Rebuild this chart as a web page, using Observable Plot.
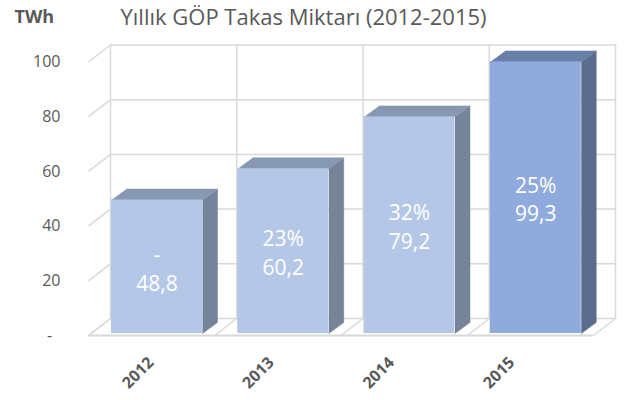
<!DOCTYPE html>
<html><head><meta charset="utf-8">
<script src="https://cdn.jsdelivr.net/npm/d3@7"></script>
<script src="https://cdn.jsdelivr.net/npm/@observablehq/plot@0.6"></script>
<style>body{margin:0;background:#fff;font-family:"Open Sans",sans-serif;}</style>
</head><body><div id="chart"></div>
<script>
// ---- data ----
const years = ["2012", "2013", "2014", "2015"];
const volumes = [48.8, 60.2, 79.2, 99.3];          // TWh
const growth = ["-", "23%", "32%", "25%"];          // yearly change
const yTicks = [0, 20, 40, 60, 80, 100];
const titleText = "Yıllık GÖP Takas Miktarı (2012-2015)";
const unitText = "TWh";

// ---- layout / style ----
const W = 627, H = 400, mL = 88, mR = 34, mT = 61.5, mB = 65;
const pxX = (W - mL - mR) / years.length;
const pxY = (H - mT - mB) / 100;
const wallDX = 22, wallDY = 17;    // depth of the chart box (px)
const barDX = 15, barDY = 11;      // depth of bars (px)
const barLift = 2;
const barStart = 0.182, barEnd = 0.903;
const labelStep = 0.953;           // perspective of category labels
const wdx = wallDX / pxX, wdy = wallDY / pxY, bdx = barDX / pxX, bdy = barDY / pxY;
const grid = "#d9d9d9", textCol = "#595959";
const colFront = [ "#b4c7e7", "#8faadc" ];
const colSide = [ "#768499", "#5b6d8e" ];
const colTop = [ "#8698b2", "#6a7fa8" ];

const fmt = v => v.toFixed(1).replace(".", ",");
const bars = years.map((year, i) => ({
  year, i, v: volumes[i], g: growth[i],
  x1: i + barStart, x2: i + barEnd, k: i === years.length - 1 ? 1 : 0
}));
const sides = bars.flatMap(b => [
  {year: b.year, k: b.k, x: b.x2, y: 0},
  {year: b.year, k: b.k, x: b.x2 + bdx, y: bdy},
  {year: b.year, k: b.k, x: b.x2 + bdx, y: b.v + bdy},
  {year: b.year, k: b.k, x: b.x2, y: b.v}
]);
const tops = bars.flatMap(b => [
  {year: b.year, k: b.k, x: b.x1, y: b.v},
  {year: b.year, k: b.k, x: b.x2, y: b.v},
  {year: b.year, k: b.k, x: b.x2 + bdx, y: b.v + bdy},
  {year: b.year, k: b.k, x: b.x1 + bdx, y: b.v + bdy}
]);
const bounds = d3.range(years.length + 1);

const chart = Plot.plot({
  width: W, height: H,
  marginLeft: mL, marginRight: mR, marginTop: mT, marginBottom: mB,
  style: {fontFamily: "'Open Sans', sans-serif", fontSize: "16px", color: textCol, background: "#fff"},
  x: {type: "linear", domain: [0, years.length], axis: null},
  y: {domain: [0, 100]},
  marks: [
    // back wall
    Plot.ruleY(yTicks, {x1: 0, x2: years.length, dx: wallDX, dy: -wallDY, stroke: grid, strokeWidth: 1.5}),
    Plot.ruleX(bounds, {y1: 0, y2: 100, dx: wallDX, dy: -wallDY, stroke: grid, strokeWidth: 1.5}),
    // left slanted gridlines
    Plot.link(yTicks, {x1: 0, y1: d => d, x2: wdx, y2: d => d + wdy, stroke: grid, strokeWidth: 1.5}),
    // floor
    Plot.link(bounds, {x1: d => d, y1: 0, x2: d => d + wdx, y2: wdy, stroke: grid, strokeWidth: 1.5}),
    Plot.ruleY([0], {x1: 0, x2: years.length, stroke: grid, strokeWidth: 2}),
    // axis
    Plot.axisY({ticks: yTicks, tickSize: 0, tickPadding: 28, tickFormat: d => d === 0 ? "-\u00a0\u00a0" : d}),
    // bars
    Plot.line(sides, {x: "x", y: "y", z: "year", fill: d => colSide[d.k], stroke: d => colSide[d.k], strokeWidth: 0.5, dy: -barLift}),
    Plot.line(tops, {x: "x", y: "y", z: "year", fill: d => colTop[d.k], stroke: d => colTop[d.k], strokeWidth: 0.5, dy: -barLift}),
    Plot.rectY(bars, {x1: "x1", x2: "x2", y1: 0, y2: "v", fill: d => colFront[d.k], dy: -barLift}),
    Plot.text(bars, {x: d => (d.x1 + d.x2) / 2, y: d => d.v / 2, text: d => `${d.g}\n${fmt(d.v)}`,
      fill: "white", fontSize: 21, lineHeight: 1.38, lineAnchor: "middle", dy: -barLift}),
    // category labels
    Plot.text(bars, {x: d => 0.5 + d.i * labelStep, y: 0, text: "year", rotate: -45, textAnchor: "end",
      lineAnchor: "bottom", dx: 3, dy: 28, fontSize: 16, fontWeight: "bold", fill: textCol}),
    // titles
    Plot.text([titleText], {frameAnchor: "top-left", text: d => d, textAnchor: "start", lineAnchor: "bottom",
      dx: 120 - mL, dy: 24 - mT, fontSize: 22, fill: textCol}),
    Plot.text([unitText], {frameAnchor: "top-left", text: d => d, textAnchor: "start", lineAnchor: "bottom",
      dx: 14 - mL, dy: 22 - mT, fontSize: 18, fontWeight: "bold", fill: textCol})
  ]
});
document.getElementById("chart").appendChild(chart);
</script>
</body></html>
